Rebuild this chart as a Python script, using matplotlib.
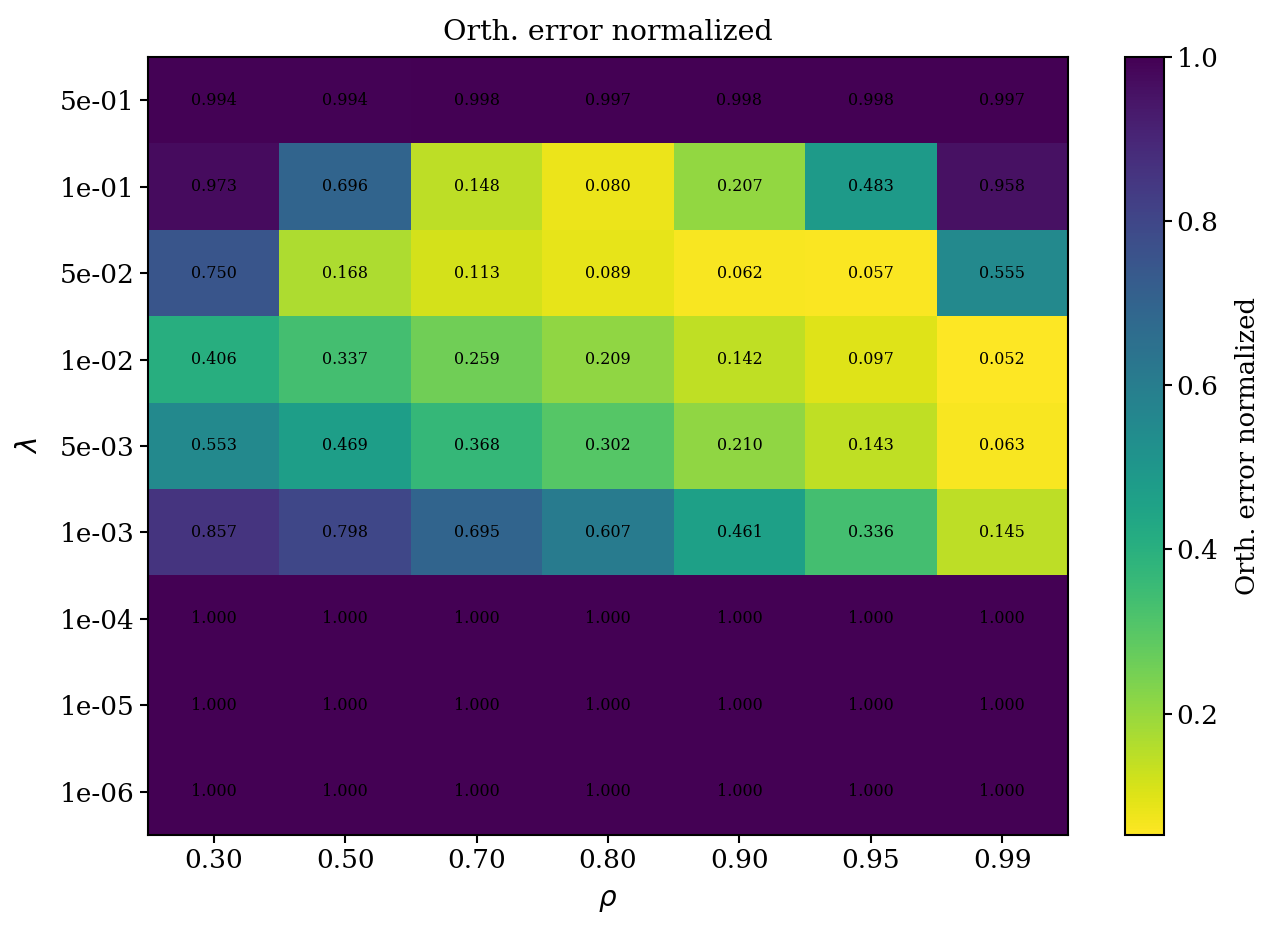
import numpy as np
import matplotlib
matplotlib.use("Agg")
import matplotlib.pyplot as plt

plt.rcParams['font.family'] = ['DejaVu Serif']

rho_labels = ['0.30', '0.50', '0.70', '0.80', '0.90', '0.95', '0.99']
lam_labels = ['5e-01', '1e-01', '5e-02', '1e-02', '5e-03', '1e-03', '1e-04', '1e-05', '1e-06']

row_5e01 = [0.994, 0.994, 0.998, 0.997, 0.998, 0.998, 0.997]
row_1e01 = [0.973, 0.696, 0.148, 0.080, 0.207, 0.483, 0.958]
row_5e02 = [0.750, 0.168, 0.113, 0.089, 0.062, 0.057, 0.555]
row_1e02 = [0.406, 0.337, 0.259, 0.209, 0.142, 0.097, 0.052]
row_5e03 = [0.553, 0.469, 0.368, 0.302, 0.210, 0.143, 0.063]
row_1e03 = [0.857, 0.798, 0.695, 0.607, 0.461, 0.336, 0.145]
row_1e04 = [1.000, 1.000, 1.000, 1.000, 1.000, 1.000, 1.000]
row_1e05 = [1.000, 1.000, 1.000, 1.000, 1.000, 1.000, 1.000]
row_1e06 = [1.000, 1.000, 1.000, 1.000, 1.000, 1.000, 1.000]

data = np.array([row_5e01, row_1e01, row_5e02, row_1e02, row_5e03,
                 row_1e03, row_1e04, row_1e05, row_1e06])

fig = plt.figure(figsize=(12.8, 9.35), dpi=100)
ax = fig.add_axes([0.1156, 0.107, 0.7188, 0.832])
cax = fig.add_axes([0.879, 0.107, 0.030, 0.832])

im = ax.imshow(data, cmap='viridis_r', aspect='auto', vmin=data.min(), vmax=1.0)

for i in range(data.shape[0]):
    for j in range(data.shape[1]):
        ax.text(j, i, f"{data[i, j]:.3f}", ha='center', va='center',
                fontsize=11.5, color='black')

ax.set_xticks(range(len(rho_labels)))
ax.set_xticklabels(rho_labels)
ax.set_yticks(range(len(lam_labels)))
ax.set_yticklabels(lam_labels)
ax.set_xlabel(r'$\rho$', fontsize=20, labelpad=10)
ax.set_ylabel(r'$\lambda$', fontsize=20, labelpad=12)
ax.set_title('Orth. error normalized', fontsize=20.5, pad=12)
ax.tick_params(labelsize=19, length=6, width=1.5)
for s in ax.spines.values():
    s.set_linewidth(1.5)

cb = fig.colorbar(im, cax=cax)
cb.set_ticks([0.2, 0.4, 0.6, 0.8, 1.0])
cb.ax.tick_params(labelsize=19, length=6, width=1.5)
cb.outline.set_linewidth(1.5)
cb.set_label('Orth. error normalized', fontsize=18.5, labelpad=12)

fig.savefig('out.png', dpi=100)
